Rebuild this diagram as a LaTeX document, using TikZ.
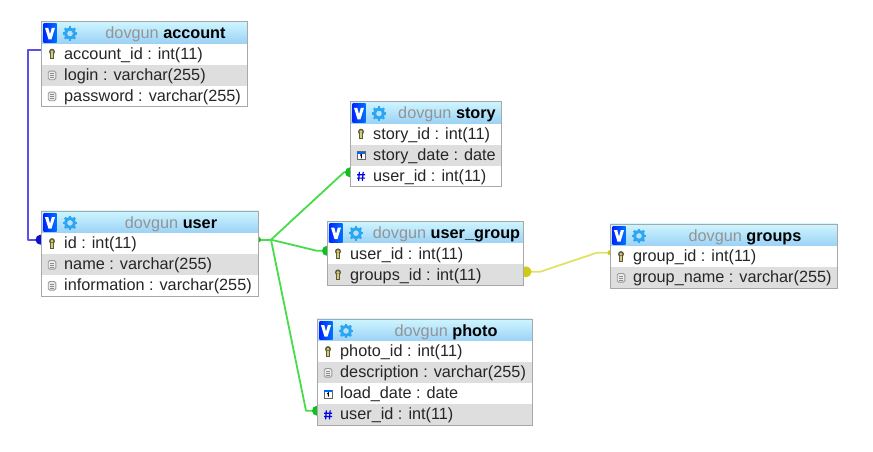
\documentclass[tikz,border=0pt]{standalone}
\usepackage{fontspec}
\setmainfont{Liberation Sans}
\usetikzlibrary{backgrounds,calc}
\definecolor{hdtop}{HTML}{CFF6FF}
\definecolor{hdbot}{HTML}{9CD2F6}
\definecolor{rowgray}{HTML}{DEDEDE}
\definecolor{frameg}{HTML}{A8A8A8}
\definecolor{linkblue}{HTML}{5A50E6}
\definecolor{dotblue}{HTML}{1010D0}
\definecolor{linkgreen}{HTML}{48DC48}
\definecolor{dotgreen}{HTML}{10C020}
\definecolor{linkyellow}{HTML}{E2E26A}
\definecolor{dotyellow}{HTML}{CCCC10}
\definecolor{gearblue}{HTML}{2BA6F2}
\definecolor{keyfill}{HTML}{D8CC70}
\definecolor{keyedge}{HTML}{5A5A40}
\tikzset{
  x=1pt,y=-1pt,
  tableframe/.style={draw=frameg,line width=1pt,fill=none,inner sep=0pt,anchor=north west},
  rowbox/.style={inner sep=0pt,anchor=north west,draw=none},
  rowtext/.style={inner sep=0pt,anchor=base west,font=\fontsize{16.25}{16}\selectfont,text=black!85},
  titletext/.style={inner sep=0pt,anchor=base,font=\fontsize{16.25}{16}\selectfont},
  relblue/.style={draw=linkblue,line width=1.8pt,line join=round},
  relgreen/.style={draw=linkgreen,line width=1.8pt,line join=round},
  relyellow/.style={draw=linkyellow,line width=1.8pt,line join=round},
}
\newcommand\drawkeyicon[2]{\begin{scope}[shift={(#1,#2)}]
  \fill[keyedge] (0,-2.6) circle[radius=3];
  \fill[keyfill] (0,-2.6) circle[radius=1.6];
  \fill[keyedge] (-2.4,-1) rectangle (2.4,5);
  \fill[keyfill] (-1.2,-1.2) rectangle (1.2,4);
\end{scope}}
\newcommand\drawcolicon[2]{\begin{scope}[shift={(#1,#2)}]
  \draw[black!40,fill=black!8,line width=0.9pt,rounded corners=1.5pt] (-3.8,-4.2) rectangle (3.8,4.4);
  \foreach \v in {-1.8,0.2,2.2}{\draw[black!45,line width=0.7pt] (-2,\v) -- (2,\v);}
\end{scope}}
\newcommand\drawdateicon[2]{\begin{scope}[shift={(#1,#2)}]
  \draw[black!60,fill=white,line width=0.8pt] (-4,-3.8) rectangle (4,4.2);
  \fill[blue!60!cyan] (-4,-3.8) rectangle (4,-1.6);
  \draw[black,line width=0.9pt] (-0.8,0) -- (0.3,-0.8) -- (0.3,3);
\end{scope}}
\newcommand\drawfkicon[2]{\begin{scope}[shift={(#1,#2)}]
  \draw[blue!90!black,line width=1.2pt] (-1.6,-4.4) -- (-2.4,4.6) (2.2,-4.4) -- (1.4,4.6) (-4,-1.5) -- (4,-1.5) (-4,1.8) -- (4,1.8);
\end{scope}}
% #1 name, #2 x, #3 y, #4 w, #5 title, #6 rows kind/text
\newcommand\dbtable[6]{%
  \pgfmathsetmacro\tx{#2}\pgfmathsetmacro\ty{#3}\pgfmathsetmacro\tw{#4}%
  \shade[top color=hdtop,bottom color=hdbot] (\tx,\ty) rectangle (\tx+\tw,\ty+22);
  \foreach \k/\t [count=\i] in {#6}{%
    \pgfmathsetmacro\ry{\ty+22+(\i-1)*21}%
    \pgfmathtruncatemacro\even{mod(\i,2)==0}%
    \ifnum\even=1 \def\rf{rowgray}\else\def\rf{white}\fi
    \node[rowbox,fill=\rf,minimum width=\tw pt,minimum height=21pt] (#1-r\i) at (\tx,\ry) {};
    \coordinate (#1-w\i) at (\tx,\ry+7);
    \coordinate (#1-e\i) at (\tx+\tw,\ry+7);
    \csname draw\k icon\endcsname{\tx+11}{\ry+11}
    \node[rowtext] (#1-t\i) at (\tx+23,\ry+16.2) {\t};
  }
  \pgfmathsetmacro\th{22+(\lastrows)*21}%
  \node[tableframe,minimum width=\tw pt,minimum height=\th pt] (#1) at (\tx,\ty) {};
  % logo
  \shade[left color=blue!85!cyan,right color=blue!55!cyan] (\tx+2.5,\ty+2.5) rectangle (\tx+15.5,\ty+21);
  \fill[white] (\tx+4,\ty+6.5) -- (\tx+7.3,\ty+6.5) -- (\tx+9,\ty+13) -- (\tx+10.8,\ty+6.5) -- (\tx+14,\ty+6.5) -- (\tx+10.5,\ty+18) -- (\tx+7.5,\ty+18) -- cycle;
  % gear
  \begin{scope}[shift={(\tx+29,\ty+12.2)}]
    \fill[gearblue] (0,0) circle[radius=5.8];
    \foreach \a in {0,45,...,315}{\draw[gearblue,line width=2.4pt] (0,0) -- (\a:7.3);}
    \fill[hdbot!70!white] (0,0) circle[radius=2.8];
  \end{scope}
  \node[titletext] (#1-title) at ({\tx+42.5+(\tw-42)/2},\ty+17.3) {\textcolor{black!42}{dovgun} \textbf{\textcolor{black}{#5}}};
}
\begin{document}
\begin{tikzpicture}
\useasboundingbox (0,0) rectangle (873,451);

\def\lastrows{3}
\dbtable{account}{41}{21.3}{206}{account}{key/account\_id : int(11),col/login : varchar(255),col/password : varchar(255)}
\dbtable{user}{41}{210.7}{217}{user}{key/id : int(11),col/name : varchar(255),col/information : varchar(255)}
\dbtable{story}{350}{101.3}{151}{story}{key/story\_id : int(11),date/story\_date : date,fk/user\_id : int(11)}
\def\lastrows{2}
\dbtable{usergroup}{327}{221}{196}{user\_group}{key/user\_id : int(11),key/groups\_id : int(11)}
\dbtable{groups}{610}{223.7}{227}{groups}{key/group\_id : int(11),col/group\_name : varchar(255)}
\def\lastrows{4}
\dbtable{photo}{317}{318.7}{215}{photo}{key/photo\_id : int(11),col/description : varchar(255),date/load\_date : date,fk/user\_id : int(11)}

\begin{scope}[on background layer]
  \fill[white] (0,0) rectangle (873,451);
  % account -- user
  \draw[relblue] (account-w1) -- ++(-13,0) -- ++(0,189.4) -- (user-w1);
  \fill[dotblue] (user-w1) ++(-0.5,0) circle[radius=5];
  % user -- story / user_group / photo
  \coordinate (fork) at ($(user-e1)+(13,0)$);
  \coordinate (ugin) at ($(usergroup-w1)+(0,0.8)$);
  \coordinate (ugout) at ($(usergroup-e2)+(0,0.8)$);
  \draw[relgreen] (user-e1) -- (fork);
  \draw[relgreen] (fork) -- ($(story-w3)+(-6,0)$) -- (story-w3);
  \draw[relgreen] (fork) -- ($(ugin)+(-10,0)$) -- (ugin);
  \draw[relgreen] (fork) -- ($(photo-w4)+(-11,0)$) -- (photo-w4);
  \fill[dotgreen] (user-e1) circle[radius=3];
  \fill[dotgreen] (story-w3) circle[radius=5];
  \fill[dotgreen] (ugin) circle[radius=5];
  \fill[dotgreen] (photo-w4) circle[radius=5];
  % user_group -- groups
  \draw[relyellow] (ugout) -- ++(17,0) -- ($(groups-w1)+(-13,0)$) -- (groups-w1);
  \fill[dotyellow] (ugout) ++(3,0) circle[radius=5.5];
  \fill[dotyellow] (groups-w1) circle[radius=2.5];
\end{scope}
\end{tikzpicture}
\end{document}
